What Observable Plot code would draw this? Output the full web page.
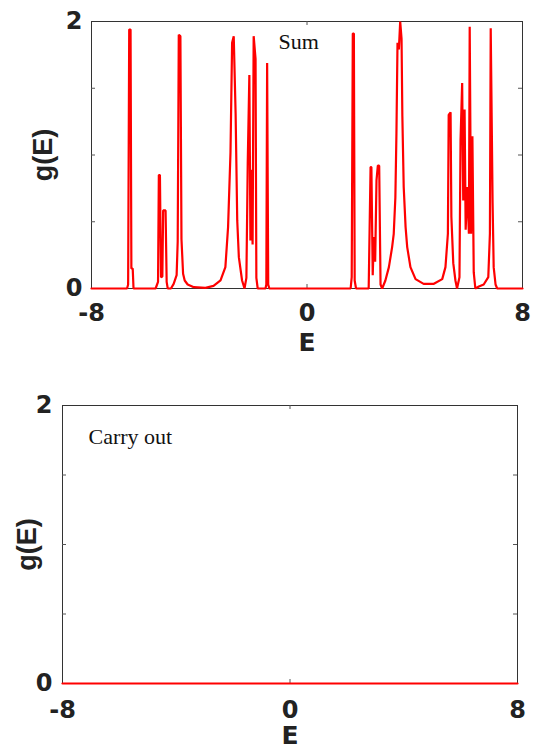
<!DOCTYPE html>
<html>
<head>
<meta charset="utf-8">
<script src="https://cdn.jsdelivr.net/npm/d3@7"></script>
<script src="https://cdn.jsdelivr.net/npm/@observablehq/plot@0.6"></script>
<style>
  html, body { margin: 0; padding: 0; background: #fff; }
  #wrap { width: 534px; }
  #wrap svg { display: block; }
</style>
</head>
<body>
<div id="wrap"></div>
<script>
// ---- data ----
const topE = [-8.00, -6.68, -6.64, -6.60, -6.55, -6.52, -6.47, -6.44,
  -5.62, -5.53, -5.50, -5.46, -5.42, -5.37, -5.34, -5.25, -5.21, -5.17,
  -5.05, -4.95, -4.84, -4.80, -4.76, -4.70, -4.66, -4.60, -4.54, -4.43, -4.20,
  -3.77, -3.47, -3.21, -3.03, -2.93, -2.84, -2.78, -2.72, -2.65, -2.59, -2.53,
  -2.41, -2.32, -2.25, -2.20, -2.14, -2.10, -2.06, -2.02, -1.98, -1.91, -1.88,
  -1.83, -1.54, -1.51, -1.48, -1.44, -1.40,
  1.62, 1.66, 1.70, 1.74, 1.77, 1.82,
  2.29, 2.36, 2.39, 2.44, 2.48, 2.53, 2.58, 2.63, 2.68, 2.73, 2.79,
  2.91, 3.04, 3.16, 3.22, 3.28, 3.32, 3.36, 3.41, 3.46, 3.51, 3.54, 3.59, 3.66,
  3.72, 3.84, 4.03, 4.33, 4.71, 5.02, 5.14, 5.23, 5.26, 5.33, 5.36, 5.43, 5.51,
  5.57, 5.66, 5.70, 5.76, 5.80, 5.85, 5.89, 5.95, 6.01, 6.04, 6.09, 6.14, 6.19,
  6.25, 6.38, 6.56, 6.73, 6.79, 6.82, 6.89, 6.93, 7.00, 7.06, 8.00];
const topG = [0, 0, 0.03, 1.94, 1.94, 0.15, 0.15, 0,
  0, 0.05, 0.85, 0.85, 0.085, 0.09, 0.585, 0.585, 0.05, 0,
  0, 0.035, 0.1, 0.35, 1.90, 1.89, 0.37, 0.11, 0.06, 0.03, 0.01,
  0.005, 0.02, 0.06, 0.16, 0.46, 1.02, 1.84, 1.89, 1.31, 0.51, 0.235,
  0.06, 0, 0.08, 0.94, 1.60, 0.36, 0.89, 0.33, 1.89, 1.72, 0.08,
  0, 0, 0.03, 1.69, 0.03, 0,
  0, 0.085, 1.91, 1.91, 0.06, 0,
  0, 0.91, 0.91, 0.10, 0.385, 0.20, 0.81, 0.92, 0.92, 0.03, 0,
  0.06, 0.16, 0.31, 0.41, 0.68, 1.16, 1.84, 1.79, 2.0, 1.87, 1.29, 0.76, 0.46,
  0.31, 0.16, 0.07, 0.035, 0.035, 0.07, 0.16, 0.41, 1.30, 1.32, 0.535, 0.19, 0.06,
  0, 0.085, 1.11, 1.54, 0.66, 1.34, 0.44, 0.76, 0.41, 1.96, 0.41, 1.14, 0.12,
  0, 0.015, 0.03, 0.085, 0.41, 1.95, 0.64, 0.16, 0.03, 0, 0];

const bottomE = [-8, 8];
const bottomG = [0, 0];

const xTicks = [-8, 0, 8];
const xTickLabels = ["-8", "0", "8"];
const yTicks = [0, 2];
const yTickLabels = ["0", "2"];
const yMinorTicks = [0.5, 1, 1.5];
const xMinorTicks = [0];

const panelLabels = ["Sum", "Carry out"];
const xLabel = "E";
const yLabel = "g(E)";

// ---- drawing ----
function panel(E, G, opt) {
  const data = E.map((e, i) => ({E: e, g: G[i]}));
  const W = opt.width - opt.ml - opt.mr;
  const H = opt.height - opt.mt - opt.mb;
  const tickCol = "#555";
  return Plot.plot({
    width: opt.width,
    height: opt.height,
    marginLeft: opt.ml, marginRight: opt.mr, marginTop: opt.mt, marginBottom: opt.mb,
    style: {background: "#fff", overflow: "visible"},
    x: {domain: [-8, 8]},
    y: {domain: [0, 2]},
    marks: [
      Plot.frame({stroke: "#333", strokeWidth: 1}),
      Plot.tickY(yMinorTicks, {y: d => d, insetRight: W - 4, stroke: tickCol}),
      Plot.tickY(yMinorTicks, {y: d => d, insetLeft: W - 4, stroke: tickCol}),
      Plot.tickX(xMinorTicks, {x: d => d, insetBottom: H - 4, stroke: tickCol}),
      Plot.tickX(xMinorTicks, {x: d => d, insetTop: H - 4, stroke: tickCol}),
      Plot.line(data, {x: "E", y: "g", stroke: "#ff0000", strokeWidth: 2.2, strokeLinejoin: "miter"}),
      Plot.axisX({ticks: xTicks, tickSize: 0, tickPadding: opt.xpad, tickFormat: (d, i) => xTickLabels[i],
        label: null, fontSize: 24, fontWeight: "bold", fontFamily: "DejaVu Sans", fill: "#222"}),
      Plot.axisY({ticks: yTicks, tickSize: 0, tickPadding: opt.ypad, tickFormat: (d, i) => yTickLabels[i],
        label: null, fontSize: 24, fontWeight: "bold", fontFamily: "DejaVu Sans", fill: "#222"}),
      Plot.text([xLabel], {text: d => d, frameAnchor: "bottom", dy: opt.xlabDy, lineAnchor: "top",
        fontSize: 25, fontWeight: "bold", fontFamily: "DejaVu Sans", fill: "#222"}),
      Plot.text([yLabel], {text: d => d, frameAnchor: "left", dx: opt.ylabDx, rotate: -90,
        lineAnchor: "middle", textAnchor: "middle",
        fontSize: 27, fontWeight: "bold", fontFamily: "Liberation Sans", fill: "#222"}),
      Plot.text([opt.label], {text: d => d, frameAnchor: "top-left", dx: opt.labDx, dy: opt.labDy,
        textAnchor: "start", lineAnchor: "top", fontSize: 22, fontFamily: "Liberation Serif", fill: "#111"})
    ]
  });
}

const wrap = document.getElementById("wrap");
wrap.append(panel(topE, topG, {
  width: 534, height: 360, ml: 91, mr: 12, mt: 21, mb: 72,
  xpad: 15, ypad: 9, xlabDy: 45, ylabDx: -48, labDx: 187, labDy: 12, label: panelLabels[0]
}));
wrap.append(panel(bottomE, bottomG, {
  width: 534, height: 391, ml: 62, mr: 17, mt: 45, mb: 68,
  xpad: 17, ypad: 10, xlabDy: 43, ylabDx: -35, labDx: 26, labDy: 23, label: panelLabels[1]
}));
</script>
</body>
</html>
